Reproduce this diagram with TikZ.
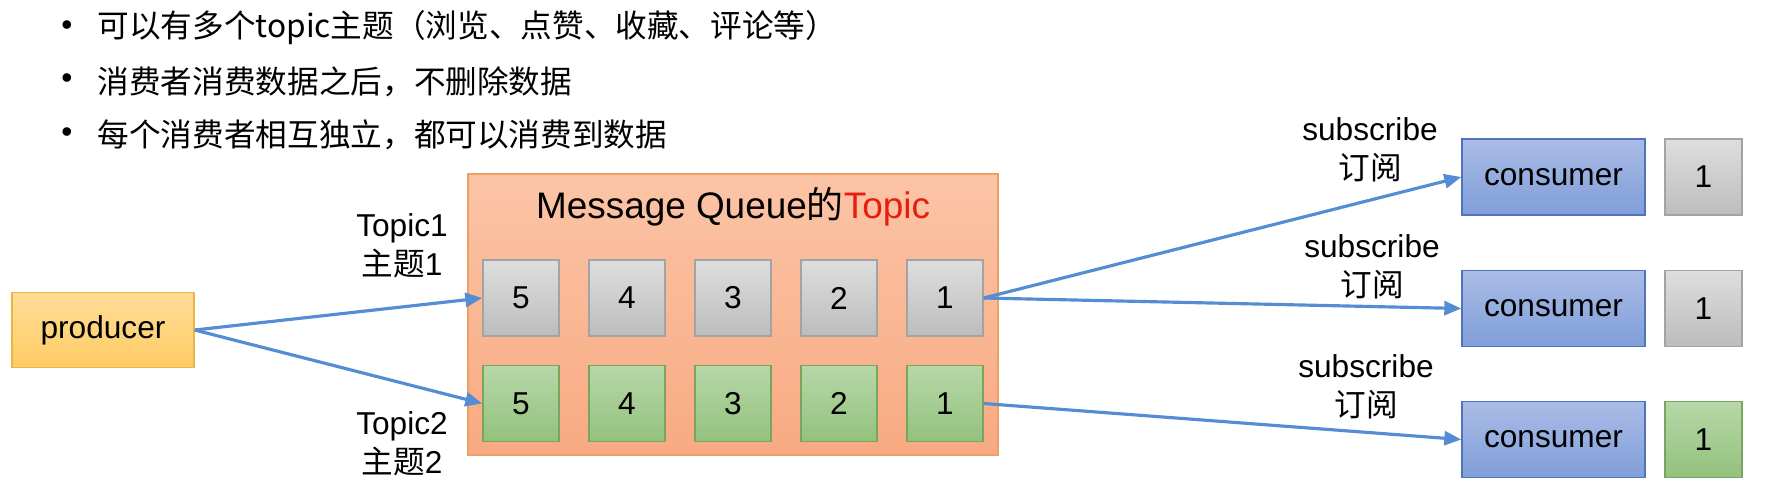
\documentclass[tikz,border=0pt]{standalone}
\usepackage{fontspec}
\setmainfont{Liberation Sans}
\newfontfamily\cjk{Noto Sans CJK SC}
\usetikzlibrary{arrows.meta}
\definecolor{arrowblue}{RGB}{84,141,212}
\definecolor{topicred}{RGB}{230,30,15}
\begin{document}
\begin{tikzpicture}[font=\fontsize{9}{11}\selectfont,
  box/.style={minimum height=7.6mm,inner sep=0,line width=0.4pt},
  greybox/.style={box,minimum width=7.6mm,top color=black!13,bottom color=black!26,draw=black!36},
  greenbox/.style={box,minimum width=7.6mm,top color={rgb,255:red,183;green,215;blue,168},bottom color={rgb,255:red,147;green,194;blue,125},draw={rgb,255:red,122;green,165;blue,95}},
  prodbox/.style={box,minimum width=18.2mm,minimum height=7.5mm,top color={rgb,255:red,255;green,220;blue,150},bottom color={rgb,255:red,255;green,204;blue,102},draw={rgb,255:red,235;green,180;blue,70}},
  consbox/.style={box,minimum width=18.3mm,top color={rgb,255:red,170;green,188;blue,230},bottom color={rgb,255:red,128;green,158;blue,217},draw={rgb,255:red,80;green,115;blue,190}},
  arr/.style={draw=arrowblue,line width=0.9pt,-{Triangle[length=1.7mm,width=1.4mm]}},
  lbl/.style={align=center,inner sep=0}]
\useasboundingbox (0,0) rectangle (17.68,4.90);
% bullet points
\foreach \txt [count=\i] in {{可以有多个topic主题（浏览、点赞、收藏、评论等）},{消费者消费数据之后，不删除数据},{每个消费者相互独立，都可以消费到数据}}{
  \node[inner sep=0] (dot\i) at (0.67,{4.62-0.535*(\i-1)}) {\textbullet};
  \node[anchor=west,inner sep=0] (item\i) at (0.97,{4.62-0.535*(\i-1)}) {\cjk\txt};
}
% producer and the queue
\node[prodbox] (prod) at (1.03,1.60) {producer};
\node[box,minimum width=53mm,minimum height=28.1mm,top color={rgb,255:red,251;green,196;blue,166},bottom color={rgb,255:red,248;green,170;blue,130},draw={rgb,255:red,236;green,160;blue,100}] (queue) at (7.33,1.755) {};
\node[inner sep=0,font=\fontsize{10.5}{12}\selectfont] (title) at (7.33,2.83) {Message Queue{\cjk 的}\textcolor{topicred}{Topic}};
\foreach \n in {5,...,1}{
  \node[greybox] (t1-\n) at ({5.21+1.06*(5-\n)},1.92) {\n};
  \node[greenbox] (t2-\n) at ({5.21+1.06*(5-\n)},0.865) {\n};
}
\node[lbl] (topic1) at (4.02,2.44) {Topic1\\{\cjk 主题}1};
\node[lbl] (topic2) at (4.02,0.46) {Topic2\\{\cjk 主题}2};
% consumers
\node[consbox] (c1) at (15.535,3.13) {consumer};
\node[consbox] (c2) at (15.535,1.815) {consumer};
\node[consbox] (c3) at (15.535,0.505) {consumer};
\node[greybox,minimum width=7.7mm] (r1) at (17.035,3.13) {1};
\node[greybox,minimum width=7.7mm] (r2) at (17.035,1.815) {1};
\node[greenbox,minimum width=7.7mm] (r3) at (17.035,0.505) {1};
\node[lbl] (sub1) at (13.70,3.40) {subscribe\\{\cjk 订阅}};
\node[lbl] (sub2) at (13.72,2.23) {subscribe\\{\cjk 订阅}};
\node[lbl] (sub3) at (13.66,1.03) {subscribe\\{\cjk 订阅}};
% arrows
\draw[arr] (prod.east) -- (t1-5.west);
\draw[arr] (prod.east) -- (t2-5.west);
\draw[arr] (t1-1.east) -- (c1.west);
\draw[arr] (t1-1.east) -- (c2.west);
\draw[arr] (t2-1.east) -- (c3.west);
\end{tikzpicture}
\end{document}
